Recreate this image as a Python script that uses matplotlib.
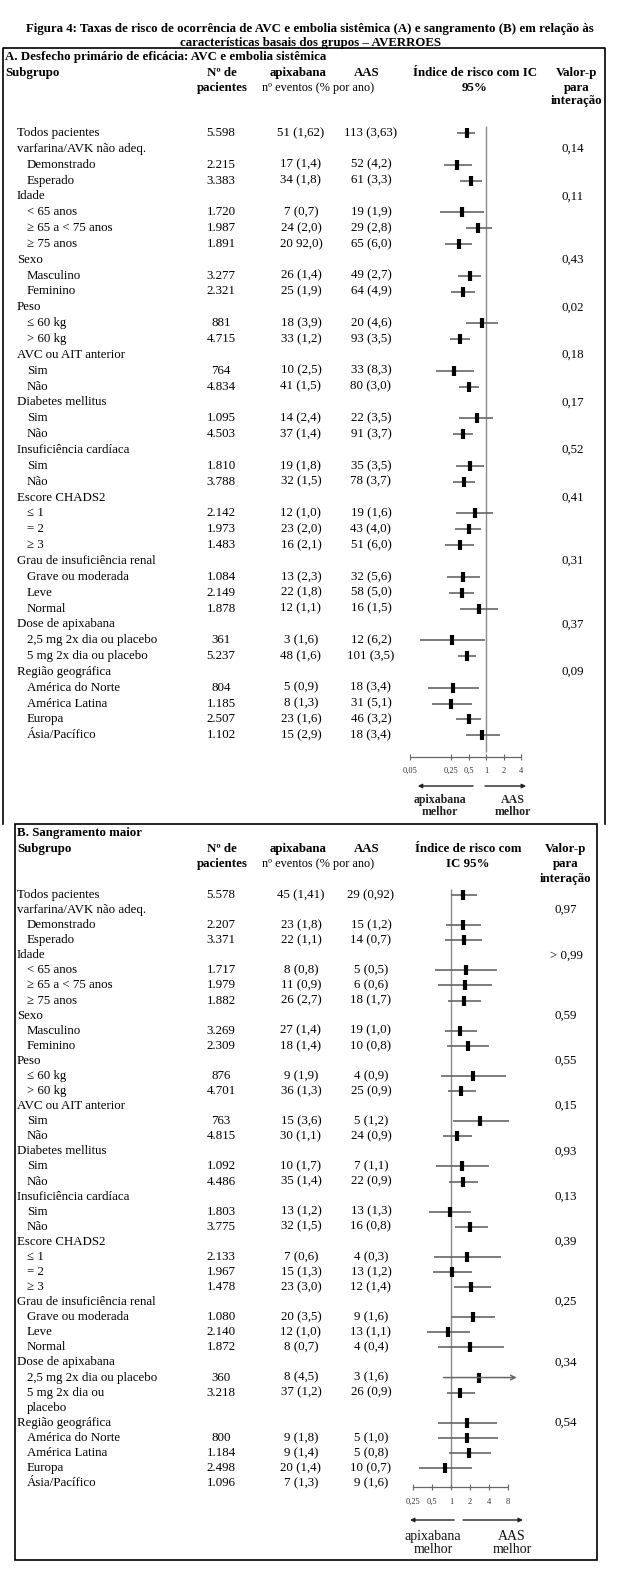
import matplotlib.pyplot as plt
from matplotlib.patches import Rectangle
import numpy as np

plt.rcParams['font.family'] = ['Liberation Serif', 'DejaVu Serif']

# ---------------- dados painel A (AVC e embolia sistêmica) ----------------
rotulos_a = ["Todos pacientes", "varfarina/AVK não adeq.", "Demonstrado", "Esperado",
             "Idade", "< 65 anos", "≥ 65 a < 75 anos", "≥ 75 anos",
             "Sexo", "Masculino", "Feminino",
             "Peso", "≤ 60 kg", "> 60 kg",
             "AVC ou AIT anterior", "Sim", "Não",
             "Diabetes mellitus", "Sim", "Não",
             "Insuficiência cardíaca", "Sim", "Não",
             "Escore CHADS2", "≤ 1", "= 2", "≥ 3",
             "Grau de insuficiência renal", "Grave ou moderada", "Leve", "Normal",
             "Dose de apixabana", "2,5 mg 2x dia ou placebo", "5 mg 2x dia ou placebo",
             "Região geográfica", "América do Norte", "América Latina", "Europa", "Ásia/Pacífico"]
nivel_a = [0, 0, 1, 1, 0, 1, 1, 1, 0, 1, 1, 0, 1, 1, 0, 1, 1, 0, 1, 1, 0, 1, 1,
           0, 1, 1, 1, 0, 1, 1, 1, 0, 1, 1, 0, 1, 1, 1, 1]
n_a = ["5.598", "", "2.215", "3.383", "", "1.720", "1.987", "1.891", "", "3.277", "2.321",
       "", "881", "4.715", "", "764", "4.834", "", "1.095", "4.503", "", "1.810", "3.788",
       "", "2.142", "1.973", "1.483", "", "1.084", "2.149", "1.878", "", "361", "5.237",
       "", "804", "1.185", "2.507", "1.102"]
apix_a = ["51 (1,62)", "", "17 (1,4)", "34 (1,8)", "", "7 (0,7)", "24 (2,0)", "20 92,0)", "",
          "26 (1,4)", "25 (1,9)", "", "18 (3,9)", "33 (1,2)", "", "10 (2,5)", "41 (1,5)", "",
          "14 (2,4)", "37 (1,4)", "", "19 (1,8)", "32 (1,5)", "", "12 (1,0)", "23 (2,0)",
          "16 (2,1)", "", "13 (2,3)", "22 (1,8)", "12 (1,1)", "", "3 (1,6)", "48 (1,6)", "",
          "5 (0,9)", "8 (1,3)", "23 (1,6)", "15 (2,9)"]
aas_a = ["113 (3,63)", "", "52 (4,2)", "61 (3,3)", "", "19 (1,9)", "29 (2,8)", "65 (6,0)", "",
         "49 (2,7)", "64 (4,9)", "", "20 (4,6)", "93 (3,5)", "", "33 (8,3)", "80 (3,0)", "",
         "22 (3,5)", "91 (3,7)", "", "35 (3,5)", "78 (3,7)", "", "19 (1,6)", "43 (4,0)",
         "51 (6,0)", "", "32 (5,6)", "58 (5,0)", "16 (1,5)", "", "12 (6,2)", "101 (3,5)", "",
         "18 (3,4)", "31 (5,1)", "46 (3,2)", "18 (3,4)"]
pval_a = ["", "0,14", "", "", "0,11", "", "", "", "0,43", "", "", "0,02", "", "", "0,18", "", "",
          "0,17", "", "", "0,52", "", "", "0,41", "", "", "", "0,31", "", "", "", "0,37", "", "",
          "0,09", "", "", "", ""]
hr_a = [0.47, None, 0.32, 0.56, None, 0.38, 0.74, 0.34, None, 0.53, 0.41, None, 0.84, 0.36,
        None, 0.28, 0.52, None, 0.69, 0.41, None, 0.53, 0.42, None, 0.64, 0.50, 0.36, None,
        0.41, 0.38, 0.76, None, 0.26, 0.48, None, 0.27, 0.25, 0.50, 0.86]
lo_a = [0.32, None, 0.19, 0.36, None, 0.16, 0.45, 0.20, None, 0.33, 0.25, None, 0.45, 0.24,
        None, 0.14, 0.35, None, 0.34, 0.27, None, 0.30, 0.27, None, 0.31, 0.29, 0.20, None,
        0.21, 0.23, 0.36, None, 0.073, 0.33, None, 0.10, 0.12, 0.30, 0.45]
hi_a = [0.64, None, 0.57, 0.85, None, 0.91, 1.27, 0.57, None, 0.83, 0.65, None, 1.59, 0.54,
        None, 0.61, 0.77, None, 1.34, 0.60, None, 0.92, 0.64, None, 1.34, 0.82, 0.62, None,
        0.78, 0.62, 1.59, None, 0.96, 0.68, None, 0.77, 0.57, 0.83, 1.72]
ticks_a = [0.05, 0.25, 0.5, 1, 2, 4]
ticklab_a = ["0,05", "0,25", "0,5", "1", "2", "4"]

# ---------------- dados painel B (sangramento maior) ----------------
rotulos_b = ["Todos pacientes", "varfarina/AVK não adeq.", "Demonstrado", "Esperado",
             "Idade", "< 65 anos", "≥ 65 a < 75 anos", "≥ 75 anos",
             "Sexo", "Masculino", "Feminino",
             "Peso", "≤ 60 kg", "> 60 kg",
             "AVC ou AIT anterior", "Sim", "Não",
             "Diabetes mellitus", "Sim", "Não",
             "Insuficiência cardíaca", "Sim", "Não",
             "Escore CHADS2", "≤ 1", "= 2", "≥ 3",
             "Grau de insuficiência renal", "Grave ou moderada", "Leve", "Normal",
             "Dose de apixabana", "2,5 mg 2x dia ou placebo", "5 mg 2x dia ou", "placebo",
             "Região geográfica", "América do Norte", "América Latina", "Europa", "Ásia/Pacífico"]
nivel_b = [0, 0, 1, 1, 0, 1, 1, 1, 0, 1, 1, 0, 1, 1, 0, 1, 1, 0, 1, 1, 0, 1, 1,
           0, 1, 1, 1, 0, 1, 1, 1, 0, 1, 1, 2, 0, 1, 1, 1, 1]  # 2 = continuação de linha
n_b = ["5.578", "", "2.207", "3.371", "", "1.717", "1.979", "1.882", "", "3.269", "2.309",
       "", "876", "4.701", "", "763", "4.815", "", "1.092", "4.486", "", "1.803", "3.775",
       "", "2.133", "1.967", "1.478", "", "1.080", "2.140", "1.872", "", "360", "3.218", "",
       "", "800", "1.184", "2.498", "1.096"]
apix_b = ["45 (1,41)", "", "23 (1,8)", "22 (1,1)", "", "8 (0,8)", "11 (0,9)", "26 (2,7)", "",
          "27 (1,4)", "18 (1,4)", "", "9 (1,9)", "36 (1,3)", "", "15 (3,6)", "30 (1,1)", "",
          "10 (1,7)", "35 (1,4)", "", "13 (1,2)", "32 (1,5)", "", "7 (0,6)", "15 (1,3)",
          "23 (3,0)", "", "20 (3,5)", "12 (1,0)", "8 (0,7)", "", "8 (4,5)", "37 (1,2)", "", "",
          "9 (1,8)", "9 (1,4)", "20 (1,4)", "7 (1,3)"]
aas_b = ["29 (0,92)", "", "15 (1,2)", "14 (0,7)", "", "5 (0,5)", "6 (0,6)", "18 (1,7)", "",
         "19 (1,0)", "10 (0,8)", "", "4 (0,9)", "25 (0,9)", "", "5 (1,2)", "24 (0,9)", "",
         "7 (1,1)", "22 (0,9)", "", "13 (1,3)", "16 (0,8)", "", "4 (0,3)", "13 (1,2)",
         "12 (1,4)", "", "9 (1,6)", "13 (1,1)", "4 (0,4)", "", "3 (1,6)", "26 (0,9)", "", "",
         "5 (1,0)", "5 (0,8)", "10 (0,7)", "9 (1,6)"]
pval_b = ["", "0,97", "", "", "> 0,99", "", "", "", "0,59", "", "", "0,55", "", "", "0,15", "", "",
          "0,93", "", "", "0,13", "", "", "0,39", "", "", "", "0,25", "", "", "", "0,34", "", "", "",
          "0,54", "", "", "", ""]
hr_b = [1.57, None, 1.55, 1.59, None, 1.71, 1.65, 1.59, None, 1.40, 1.84, None, 2.21, 1.46,
        None, 2.91, 1.24, None, 1.49, 1.57, None, 0.96, 2.0, None, 1.81, 1.04, 2.07, None,
        2.21, 0.90, 2.0, None, 2.81, 1.40, None, None, 1.77, 1.79, 1.93, 0.79]
lo_b = [0.99, None, 0.82, 0.80, None, 0.56, 0.62, 0.89, None, 0.80, 0.86, None, 0.70, 0.89,
        None, 1.09, 0.76, None, 0.58, 0.93, None, 0.45, 1.14, None, 0.53, 0.51, 1.12, None,
        1.01, 0.42, 0.62, None, 0.76, 0.86, None, None, 0.62, 0.62, 0.93, 0.31]
hi_b = [2.55, None, 3.02, 3.14, None, 5.29, 4.46, 2.95, None, 2.55, 4.0, None, 7.36, 2.49,
        None, 8.2, 2.15, None, 4.0, 2.68, None, 2.07, 3.8, None, 6.27, 2.18, 4.26, None,
        4.92, 2.0, 6.83, None, 11.0, 2.37, None, None, 5.35, 5.5, 4.26, 2.15]
ticks_b = [0.25, 0.5, 1, 2, 4, 8]
ticklab_b = ["0,25", "0,5", "1", "2", "4", "8"]

# ---------------- figura ----------------
W, H = 620, 1569
fig = plt.figure(figsize=(W / 100, H / 100), dpi=100)
ax = fig.add_axes([0, 0, 1, 1])
ax.set_xlim(0, W)
ax.set_ylim(H, 0)
ax.axis('off')

fs = 9.3

ax.text(310, 29, "Figura 4: Taxas de risco de ocorrência de AVC e embolia sistêmica (A) e sangramento (B) em relação às",
        ha='center', va='center', fontsize=fs, fontweight='bold')
ax.text(310, 43, "características basais dos grupos – AVERROES", ha='center', va='center',
        fontsize=fs, fontweight='bold')

# caixas
ax.plot([3, 3, 605, 605], [824, 48, 48, 824], color='black', lw=1.2)
ax.add_patch(Rectangle((15, 824), 582, 736, fill=False, ec='black', lw=1.2))


def painel(titulo, x_tit, y_tit, hy, col, rot, niv, nn, ap, aa, pv, y0, dy):
    ax.text(x_tit, y_tit, titulo, ha='left', va='center', fontsize=fs, fontweight='bold')
    ax.text(x_tit, hy[0], "Subgrupo", ha='left', va='center', fontsize=fs, fontweight='bold')
    ax.text(222, hy[0], "Nº de", ha='center', va='center', fontsize=fs, fontweight='bold')
    ax.text(222, hy[1], "pacientes", ha='center', va='center', fontsize=fs, fontweight='bold')
    ax.text(298, hy[0], "apixabana", ha='center', va='center', fontsize=fs, fontweight='bold')
    ax.text(367, hy[0], "AAS", ha='center', va='center', fontsize=fs, fontweight='bold')
    ax.text(318, hy[1], "nº eventos (% por ano)", ha='center', va='center', fontsize=fs - 0.5)
    ax.text(col[0], hy[0], col[1], ha='center', va='center', fontsize=fs, fontweight='bold')
    ax.text(col[0], hy[1], col[2], ha='center', va='center', fontsize=fs, fontweight='bold')
    ax.text(col[3], hy[0], "Valor-p", ha='center', va='center', fontsize=fs, fontweight='bold')
    ax.text(col[3], hy[1], "para", ha='center', va='center', fontsize=fs, fontweight='bold')
    ax.text(col[3], hy[2], "interação", ha='center', va='center', fontsize=fs, fontweight='bold')
    for i, r in enumerate(rot):
        y = y0 + i * dy
        ax.text(17 if niv[i] == 0 else 27, y, r, ha='left', va='center', fontsize=fs)
        ax.text(221, y, nn[i], ha='center', va='center', fontsize=fs)
        ax.text(301, y, ap[i], ha='center', va='center', fontsize=fs)
        ax.text(371, y, aa[i], ha='center', va='center', fontsize=fs)
        ax.text(col[4], y, pv[i], ha='center', va='center', fontsize=fs)


y0_a, dy_a = 133, 15.85
y0_b, dy_b = 895, 15.08
painel("A. Desfecho primário de eficácia: AVC e embolia sistêmica", 5, 57, [73, 88, 101],
       [475, "Índice de risco com IC", "95%", 577, 573],
       rotulos_a, nivel_a, n_a, apix_a, aas_a, pval_a, y0_a, dy_a)
painel("B. Sangramento maior", 17, 833, [849, 864, 879],
       [468, "Índice de risco com", "IC 95%", 566, 566],
       rotulos_b, nivel_b, n_b, apix_b, aas_b, pval_b, y0_b, dy_b)


def forest(px_um, px_unid, y0, dy, niv, hr, lo, hi, ticks, ticklab, y_ref, y_eixo,
           y_tick, y_seta, setas, y_txt, x_txt, txt_kw):
    L, R, T, B = 395, 565, y0 - 25, y_txt + 20
    fa = fig.add_axes([L / W, 1 - B / H, (R - L) / W, (B - T) / H])
    fa.patch.set_alpha(0)
    fa.axis('off')
    fa.set_xscale('log', base=2)
    fa.set_xlim(2 ** ((L - px_um) / px_unid), 2 ** ((R - px_um) / px_unid))
    row = lambda py: (py - y0) / dy
    fa.set_ylim(row(B), row(T))
    fa.vlines(1, row(y_ref[0]), row(y_ref[1]), color='#8a8a8a', lw=1.0)
    k = 0
    for i in range(len(niv)):
        if niv[i] == 2:
            continue
        if hr[i] is not None:
            if hi[i] > ticks[-1] * 1.2:
                # IC que passa do fim do eixo: seta aberta
                fa.annotate('', xy=(hi[i], k), xytext=(lo[i], k),
                            arrowprops=dict(arrowstyle='->', color='#666666', lw=1.1,
                                            shrinkA=0, shrinkB=0, mutation_scale=8))
            else:
                fa.hlines(k, lo[i], hi[i], color='#666666', lw=1.2)
            fa.plot(hr[i], k, marker='|', color='black', ms=7, mew=3)
        k += 1
    ye = row(y_eixo)
    fa.hlines(ye, ticks[0], ticks[-1], color='#666666', lw=0.9)
    fa.plot(ticks, [ye] * len(ticks), ls='none', marker='|', ms=4, mew=0.8, color='#666666')
    for t, lb in zip(ticks, ticklab):
        fa.text(t, row(y_tick), lb, ha='center', va='center', fontsize=6, color='#333333')
    ys = row(y_seta)
    for a, b in setas:
        fa.annotate('', xy=(b, ys), xytext=(a, ys),
                    arrowprops=dict(arrowstyle='-|>', color='#222222', lw=1.0,
                                    shrinkA=0, shrinkB=0, mutation_scale=6))
    fa.text(x_txt[0], row(y_txt), "apixabana\nmelhor", ha='center', va='center',
            linespacing=0.95, **txt_kw)
    fa.text(x_txt[1], row(y_txt), "AAS\nmelhor", ha='center', va='center',
            linespacing=0.95, **txt_kw)


forest(486, 17.5, y0_a, dy_a, nivel_a, hr_a, lo_a, hi_a, ticks_a, ticklab_a,
       (126, 752), 757, 771, 786, [(0.6, 0.067), (0.96, 4.9)], 806, (0.16, 2.9),
       dict(fontsize=8.6, fontweight='bold', color='#222222'))
forest(451, 19, y0_b, dy_b, nivel_b, hr_b, lo_b, hi_b, ticks_b, ticklab_b,
       (889, 1488), 1487, 1502, 1520, [(1.12, 0.224), (1.55, 13.8)], 1543, (0.52, 9.3),
       dict(fontsize=10, color='#111111'))

fig.savefig('out.png', dpi=100)
